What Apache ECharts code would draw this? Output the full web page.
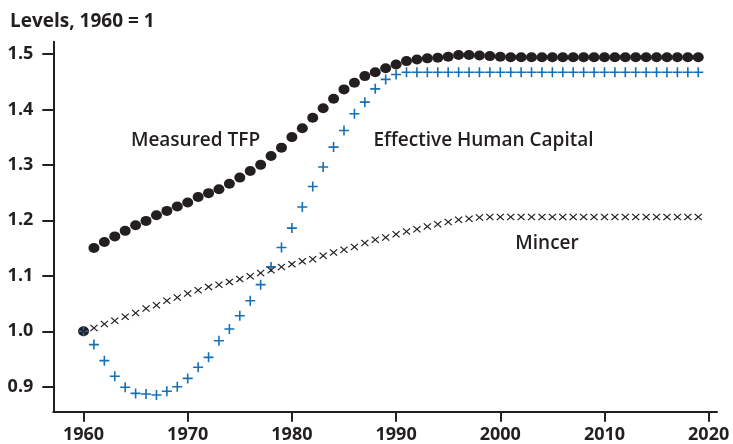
<!DOCTYPE html>
<html>
<head>
<meta charset="utf-8">
<script src="https://cdn.jsdelivr.net/npm/echarts@6/dist/echarts.min.js"></script>
<style>html,body{margin:0;padding:0;background:#fff}#c{width:733px;height:444px}</style>
</head>
<body>
<div id="c"></div>
<script>
const years = [1960,1961,1962,1963,1964,1965,1966,1967,1968,1969,1970,1971,1972,1973,1974,1975,1976,1977,1978,1979,1980,1981,1982,1983,1984,1985,1986,1987,1988,1989,1990,1991,1992,1993,1994,1995,1996,1997,1998,1999,2000,2001,2002,2003,2004,2005,2006,2007,2008,2009,2010,2011,2012,2013,2014,2015,2016,2017,2018,2019];
const measuredTFP = [1.000,1.150,1.161,1.171,1.181,1.191,1.199,1.209,1.217,1.225,1.232,1.242,1.249,1.256,1.266,1.277,1.289,1.300,1.316,1.331,1.350,1.366,1.385,1.402,1.419,1.436,1.448,1.460,1.467,1.474,1.481,1.487,1.490,1.492,1.493,1.495,1.498,1.498,1.497,1.496,1.495,1.494,1.494,1.494,1.494,1.494,1.494,1.494,1.494,1.494,1.494,1.494,1.494,1.494,1.494,1.494,1.494,1.494,1.494,1.494];
const effectiveHC = [1.000,0.976,0.947,0.919,0.899,0.888,0.887,0.885,0.892,0.900,0.915,0.935,0.953,0.983,1.004,1.028,1.055,1.084,1.116,1.151,1.186,1.224,1.261,1.296,1.332,1.362,1.392,1.413,1.437,1.454,1.463,1.467,1.467,1.467,1.467,1.467,1.467,1.467,1.467,1.467,1.467,1.467,1.467,1.467,1.467,1.467,1.467,1.467,1.467,1.467,1.467,1.467,1.467,1.467,1.467,1.467,1.467,1.467,1.467,1.467];
const mincer = [1.000,1.006,1.013,1.019,1.026,1.033,1.041,1.047,1.055,1.061,1.068,1.074,1.080,1.084,1.089,1.094,1.099,1.105,1.110,1.116,1.121,1.126,1.130,1.136,1.142,1.147,1.152,1.159,1.165,1.169,1.175,1.180,1.184,1.189,1.193,1.197,1.201,1.203,1.205,1.206,1.206,1.206,1.206,1.206,1.206,1.206,1.206,1.206,1.206,1.206,1.206,1.206,1.206,1.206,1.206,1.206,1.206,1.206,1.206,1.206];
const xTicks = [1960,1970,1980,1990,2000,2010,2020];
const yTicks = [0.9,1.0,1.1,1.2,1.3,1.4,1.5];
const seriesNames = ['Measured TFP','Effective Human Capital','Mincer'];
const titleText = 'Levels, 1960 = 1';

const ink = '#231f20';
const blue = '#1570b5';
const font = '"Open Sans", "Liberation Sans", sans-serif';
const zip = arr => years.map((y, i) => [y, arr[i]]);

const plusPath = 'path://M4.2,0L5.8,0L5.8,4.2L10,4.2L10,5.8L5.8,5.8L5.8,10L4.2,10L4.2,5.8L0,5.8L0,4.2L4.2,4.2Z';
const crossPath = 'path://M0,1.1L1.1,0L5,3.9L8.9,0L10,1.1L6.1,5L10,8.9L8.9,10L5,6.1L1.1,10L0,8.9L3.9,5Z';

const chart = echarts.init(document.getElementById('c'), null, {renderer: 'canvas'});
chart.setOption({
  animation: false,
  backgroundColor: '#fff',
  grid: {left: 53.3, right: 16, top: 41.7, bottom: 32.3, containLabel: false},
  xAxis: {
    type: 'value', min: 1957.1, max: 2020.8,
    splitLine: {show: false},
    axisLine: {lineStyle: {color: ink, width: 2}},
    axisTick: {customValues: xTicks, length: 10, lineStyle: {color: ink, width: 2}},
    axisLabel: {customValues: xTicks, margin: 14, color: ink, fontFamily: font, fontWeight: 700, fontSize: 18,
      formatter: v => String(Math.round(v))}
  },
  yAxis: {
    type: 'value', min: 0.855, max: 1.522,
    splitLine: {show: false},
    axisLine: {show: true, lineStyle: {color: ink, width: 2}},
    axisTick: {show: true, customValues: yTicks, length: 11, lineStyle: {color: ink, width: 2}},
    axisLabel: {customValues: yTicks, margin: 20, color: ink, fontFamily: font, fontWeight: 700, fontSize: 18,
      formatter: v => Number(v).toFixed(1)}
  },
  series: [
    {name: seriesNames[0], type: 'scatter', data: zip(measuredTFP), symbol: 'circle', symbolSize: [11, 10],
      itemStyle: {color: ink, opacity: 1}, z: 2},
    {name: seriesNames[1], type: 'scatter', data: zip(effectiveHC), symbol: plusPath, symbolSize: [10, 10],
      itemStyle: {color: blue, opacity: 1}, z: 3},
    {name: seriesNames[2], type: 'scatter', data: zip(mincer), symbol: crossPath, symbolSize: [8, 7],
      itemStyle: {color: ink, opacity: 1}, z: 4}
  ],
  graphic: [
    {type: 'text', x: 10, y: 21.5, style: {text: titleText, fill: ink, font: '700 19px ' + font, verticalAlign: 'middle', align: 'left'}},
    {type: 'text', x: 195.5, y: 140.5, style: {text: seriesNames[0], fill: ink, font: '600 19px ' + font, verticalAlign: 'middle', align: 'center'}},
    {type: 'text', x: 483.5, y: 140.5, style: {text: seriesNames[1], fill: ink, font: '600 19px ' + font, verticalAlign: 'middle', align: 'center'}},
    {type: 'text', x: 547, y: 243.5, style: {text: seriesNames[2], fill: ink, font: '600 19px ' + font, verticalAlign: 'middle', align: 'center'}}
  ]
});
</script>
</body>
</html>
